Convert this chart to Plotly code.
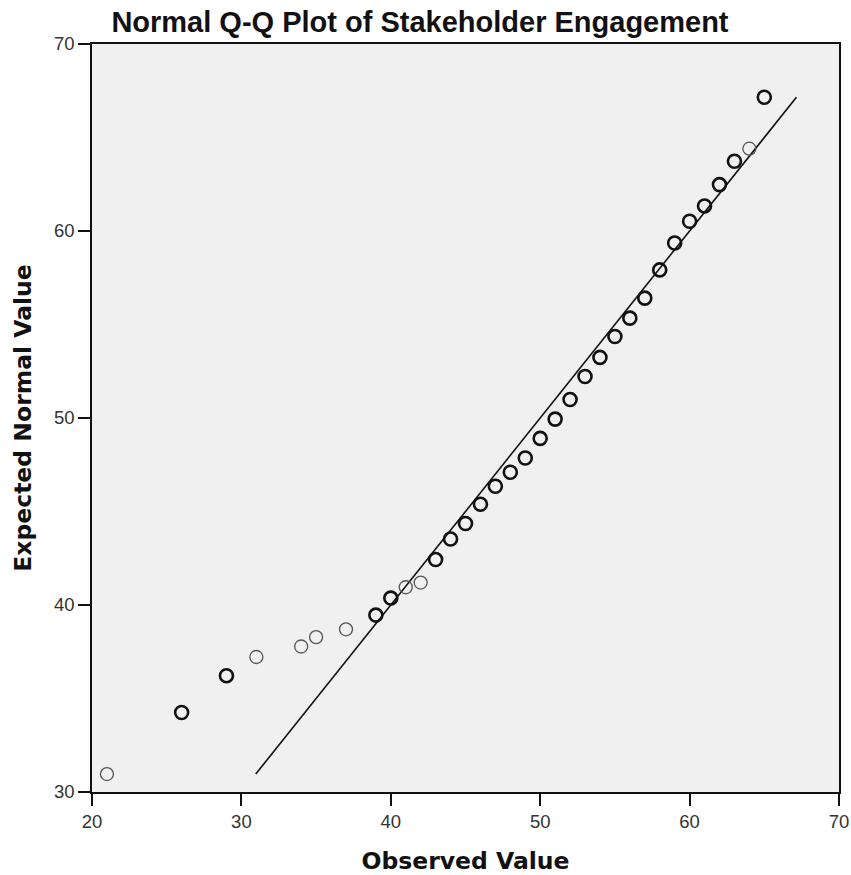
import plotly.graph_objects as go

observed = [21, 26, 29, 31, 34, 35, 37, 39, 40, 41, 42, 43, 44, 45, 46, 47, 48, 49,
            50, 51, 52, 53, 54, 55, 56, 57, 58, 59, 60, 61, 62, 63, 64, 65]
expected = [30.96, 34.25, 36.22, 37.22, 37.78, 38.28, 38.70, 39.46, 40.37, 40.95,
            41.20, 42.43, 43.53, 44.36, 45.39, 46.35, 47.10, 47.86, 48.91, 49.94,
            50.99, 52.22, 53.24, 54.36, 55.34, 56.41, 57.92, 59.36, 60.52, 61.34,
            62.48, 63.73, 64.40, 67.15]
# values observed only once (drawn with a lighter circle in the reference)
single_case = [21, 31, 34, 35, 37, 41, 42, 64]

x_ticks = [20, 30, 40, 50, 60, 70]
y_ticks = [30, 40, 50, 60, 70]

colors = ["#555555" if v in single_case else "#111111" for v in observed]
widths = [1.3 if v in single_case else 2.6 for v in observed]

line_x = [min(expected), max(expected)]
line_y = [min(expected), max(expected)]

fig = go.Figure()
fig.add_trace(go.Scatter(x=line_x, y=line_y, mode="lines",
                         line=dict(color="#111111", width=1.6),
                         hoverinfo="skip", showlegend=False))
fig.add_trace(go.Scatter(x=observed, y=expected, mode="markers",
                         marker=dict(symbol="circle-open", size=13, color=colors,
                                     line=dict(width=widths)),
                         showlegend=False))

fig.update_layout(
    width=851, height=875,
    margin=dict(l=92, r=12, t=44, b=83, autoexpand=False),
    paper_bgcolor="white",
    plot_bgcolor="#f0f0f0",
    title=dict(text="<b>Normal Q-Q Plot of Stakeholder Engagement</b>",
               font=dict(family="Liberation Sans, Arial", size=29, color="#111111"),
               x=0.4935, xref="container", xanchor="center",
               y=1 - 22 / 875, yref="container", yanchor="middle"),
    font=dict(family="Liberation Sans, Arial", size=18.5, color="#333333"),
)
fig.update_xaxes(range=[20, 70], tickvals=x_ticks, ticks="outside", ticklen=12,
                 tickwidth=1.5, tickcolor="#111111", automargin=False,
                 showgrid=False, zeroline=False, showline=True, linecolor="#111111",
                 linewidth=1.5, mirror=True,
                 title=dict(text="<b>Observed Value</b>", standoff=22,
                            font=dict(family="DejaVu Sans", size=23.5, color="#111111")))
fig.update_yaxes(range=[30, 70], tickvals=y_ticks, ticks="outside", ticklen=12,
                 tickwidth=1.5, tickcolor="#111111", automargin=False,
                 showgrid=False, zeroline=False, showline=True, linecolor="#111111",
                 linewidth=1.5, mirror=True,
                 title=dict(text="<b>Expected Normal Value</b>", standoff=16,
                            font=dict(family="DejaVu Sans", size=23.5, color="#111111")))

fig.write_html("out.html")
